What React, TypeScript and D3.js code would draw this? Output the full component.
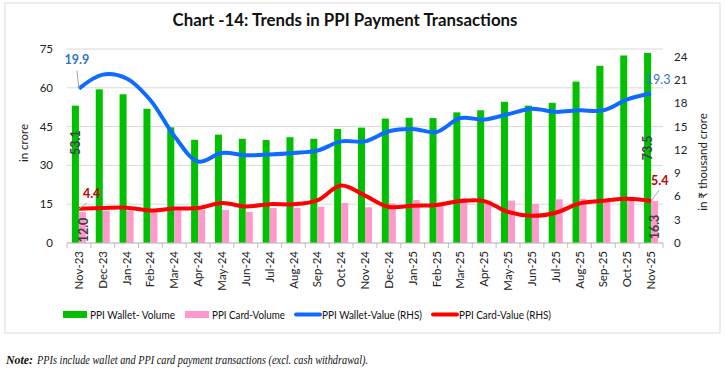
import React from 'react'
import * as d3 from 'd3'

const categories = [
  'Nov-23', 'Dec-23', 'Jan-24', 'Feb-24', 'Mar-24', 'Apr-24', 'May-24', 'Jun-24', 'Jul-24',
  'Aug-24', 'Sep-24', 'Oct-24', 'Nov-24', 'Dec-24', 'Jan-25', 'Feb-25', 'Mar-25', 'Apr-25',
  'May-25', 'Jun-25', 'Jul-25', 'Aug-25', 'Sep-25', 'Oct-25', 'Nov-25'
]
const walletVolume = [53.1, 59.4, 57.5, 51.9, 44.7, 39.9, 41.9, 40.3, 39.8, 40.9, 40.3, 44.1, 44.6, 48.1, 48.4, 48.3, 50.5, 51.3, 54.6, 53.1, 54.2, 62.4, 68.5, 72.5, 73.5]
const cardVolume = [12.0, 12.5, 12.5, 12.1, 12.5, 12.8, 12.8, 12.0, 13.5, 13.6, 14.0, 15.5, 13.8, 15.3, 16.6, 14.8, 17.3, 16.4, 16.4, 15.1, 16.9, 17.1, 16.4, 16.6, 16.3]
const walletValue = [19.9, 21.7, 21.2, 18.4, 13.8, 10.5, 11.6, 11.3, 11.4, 11.6, 11.9, 13.1, 13.1, 14.4, 14.7, 14.3, 16.1, 15.9, 16.6, 17.3, 16.9, 17.1, 17.1, 18.5, 19.3]
const cardValue = [4.4, 4.5, 4.55, 4.2, 4.45, 4.5, 5.15, 4.7, 5.0, 5.0, 5.5, 7.4, 6.1, 4.65, 4.8, 4.9, 5.4, 5.4, 4.0, 3.5, 3.9, 5.1, 5.45, 5.7, 5.4]
const leftTicks = [0, 15, 30, 45, 60, 75]
const rightTicks = [0, 3, 6, 9, 12, 15, 18, 21, 24]

const GREEN = '#00c000'
const PINK = '#ff99cc'
const BLUE = '#0f6bff'
const RED = '#ff0000'
const FONT = 'Lato, "Liberation Sans", sans-serif'

export default function App() {
  const width = 725, height = 372
  const margin = { left: 67, right: 62, top: 49, bottom: 129 }
  const plotW = width - margin.left - margin.right
  const plotH = height - margin.top - margin.bottom

  const x = d3.scaleBand().domain(categories).range([0, plotW])
  const inner = d3.scaleBand().domain(['wallet', 'card']).range([0, x.bandwidth()]).paddingOuter(0.7)
  const y = d3.scaleLinear().domain([0, 75]).range([plotH, 0])
  const yR = d3.scaleLinear().domain([0, 25]).range([plotH, 0])
  const cx = (i: number) => (x(categories[i]) as number) + x.bandwidth() / 2

  const line = d3.line<number>()
    .x((_, i) => cx(i))
    .y(d => yR(d))
    .curve(d3.curveCatmullRom.alpha(0.5))

  const last = categories.length - 1

  return (
    <svg width={width} height={height} style={{ position: 'absolute', left: 0, top: 0, background: '#fff' }}
      fontFamily={FONT}>
      <rect x={5} y={3} width={715} height={330} fill="none" stroke="#d9d9d9" strokeWidth={1} />
      <text x={345} y={26} textAnchor="middle" fontSize={16.5} fontWeight="bold" fill="#111"
        textLength={345} lengthAdjust="spacingAndGlyphs">
        Chart -14: Trends in PPI Payment Transactions
      </text>

      <g transform={`translate(${margin.left},${margin.top})`}>
        {leftTicks.map(t => (
          <line key={t} x1={0} x2={plotW} y1={y(t)} y2={y(t)} stroke="#d9d9d9" />
        ))}
        {leftTicks.map(t => (
          <text key={t} x={-14} y={y(t)} dy="0.35em" textAnchor="end" fontSize={11.5} fill="#222">{t}</text>
        ))}
        {rightTicks.map(t => (
          <text key={t} x={plotW + 11} y={yR(t)} dy="0.35em" textAnchor="start" fontSize={11.5} fill="#222">{t}</text>
        ))}
        <text transform={`translate(${-39},${plotH / 2 - 3}) rotate(-90)`} textAnchor="middle" fontSize={11.5} fill="#222">in crore</text>
        <text transform={`translate(${plotW + 44},${plotH / 2 + 16}) rotate(-90)`} textAnchor="middle" fontSize={11.5} fill="#222">in ₹ thousand crore</text>

        {categories.map((c, i) => (
          <g key={c}>
            <rect x={(x(c) as number) + (inner('wallet') as number)} y={y(walletVolume[i])}
              width={inner.bandwidth()} height={plotH - y(walletVolume[i])} fill={GREEN} />
            <rect x={(x(c) as number) + (inner('card') as number)} y={y(cardVolume[i])}
              width={inner.bandwidth()} height={plotH - y(cardVolume[i])} fill={PINK} />
          </g>
        ))}

        <line x1={0} x2={plotW} y1={plotH} y2={plotH} stroke="#bfbfbf" />
        {d3.range(categories.length + 1).map(i => (
          <line key={i} x1={i * x.step()} x2={i * x.step()} y1={plotH} y2={plotH + 5} stroke="#bfbfbf" />
        ))}
        {categories.map((c, i) => (
          <text key={c} transform={`translate(${cx(i)},${plotH + 8}) rotate(-90)`} dy="0.35em"
            textAnchor="end" fontSize={11.5} fill="#222">{c}</text>
        ))}

        <path d={line(walletValue) || ''} fill="none" stroke={BLUE} strokeWidth={4} strokeLinejoin="round" />
        <path d={line(cardValue) || ''} fill="none" stroke={RED} strokeWidth={4} strokeLinejoin="round" />

        {/* data labels for first and last month */}
        <line x1={cx(0)} y1={yR(walletValue[0])} x2={cx(0) - 2} y2={yR(walletValue[0]) - 18} stroke="#a6a6a6" />
        <text x={cx(0) - 2} y={yR(walletValue[0]) - 29} textAnchor="middle" dy="0.35em" fontSize={12.5} fontWeight="bold" fill="#2f75c8">{walletValue[0].toFixed(1)}</text>
        <line x1={cx(0)} y1={yR(cardValue[0])} x2={cx(0) + 8} y2={yR(cardValue[0]) - 6} stroke="#a6a6a6" />
        <text x={cx(0) + 4} y={yR(cardValue[0]) - 15} dy="0.35em" fontSize={12.5} fontWeight="bold" fill="#c00000">{cardValue[0].toFixed(1)}</text>
        <text transform={`translate(${cx(0) - 3},${y(walletVolume[0]) + 37}) rotate(-90)`} textAnchor="middle" dy="0.35em" fontSize={12.5} fontWeight="bold" fill="#404040">{walletVolume[0].toFixed(1)}</text>
        <text transform={`translate(${cx(0) + 5},${plotH - 13}) rotate(-90)`} textAnchor="middle" dy="0.35em" fontSize={12.5} fontWeight="bold" fill="#404040">{cardVolume[0].toFixed(1)}</text>

        <text x={cx(last) + 7} y={yR(walletValue[last]) - 14} textAnchor="middle" dy="0.35em" fontSize={12.5} fill="#2f75c8">{walletValue[last].toFixed(1)}</text>
        <line x1={cx(last)} y1={yR(cardValue[last])} x2={cx(last) + 8} y2={yR(cardValue[last]) - 11} stroke="#a6a6a6" />
        <text x={cx(last)} y={yR(cardValue[last]) - 20} dy="0.35em" fontSize={12.5} fontWeight="bold" fill="#c00000">{cardValue[last].toFixed(1)}</text>
        <text transform={`translate(${cx(last) - 3},${y(walletVolume[last]) + 95}) rotate(-90)`} textAnchor="middle" dy="0.35em" fontSize={12.5} fontWeight="bold" fill="#404040">{walletVolume[last].toFixed(1)}</text>
        <text transform={`translate(${cx(last) + 4},${plotH - 16}) rotate(-90)`} textAnchor="middle" dy="0.35em" fontSize={12.5} fontWeight="bold" fill="#404040">{cardVolume[last].toFixed(1)}</text>
      </g>

      <g fontSize={12} fill="#111">
        <rect x={63} y={311} width={24} height={7} fill={GREEN} />
        <text x={90} y={315} dy="0.35em" textLength={85} lengthAdjust="spacingAndGlyphs">PPI Wallet- Volume</text>
        <rect x={185} y={311} width={24} height={7} fill={PINK} />
        <text x={212} y={315} dy="0.35em" textLength={73} lengthAdjust="spacingAndGlyphs">PPI Card-Volume</text>
        <line x1={296} x2={320} y1={314.5} y2={314.5} stroke={BLUE} strokeWidth={4} strokeLinecap="round" />
        <text x={322} y={315} dy="0.35em" textLength={100} lengthAdjust="spacingAndGlyphs">PPI Wallet-Value (RHS)</text>
        <line x1={433} x2={457} y1={314.5} y2={314.5} stroke={RED} strokeWidth={4} strokeLinecap="round" />
        <text x={459} y={315} dy="0.35em" textLength={92} lengthAdjust="spacingAndGlyphs">PPI Card-Value (RHS)</text>
      </g>

      <g fontSize={12.5} fontStyle="italic" fontFamily='"Liberation Serif", serif' fill="#111">
        <text x={6} y={364} fontWeight="bold" textLength={27} lengthAdjust="spacingAndGlyphs">Note:</text>
        <text x={37} y={364} textLength={331} lengthAdjust="spacingAndGlyphs">
          PPIs include wallet and PPI card payment transactions (excl. cash withdrawal).
        </text>
      </g>
    </svg>
  )
}
